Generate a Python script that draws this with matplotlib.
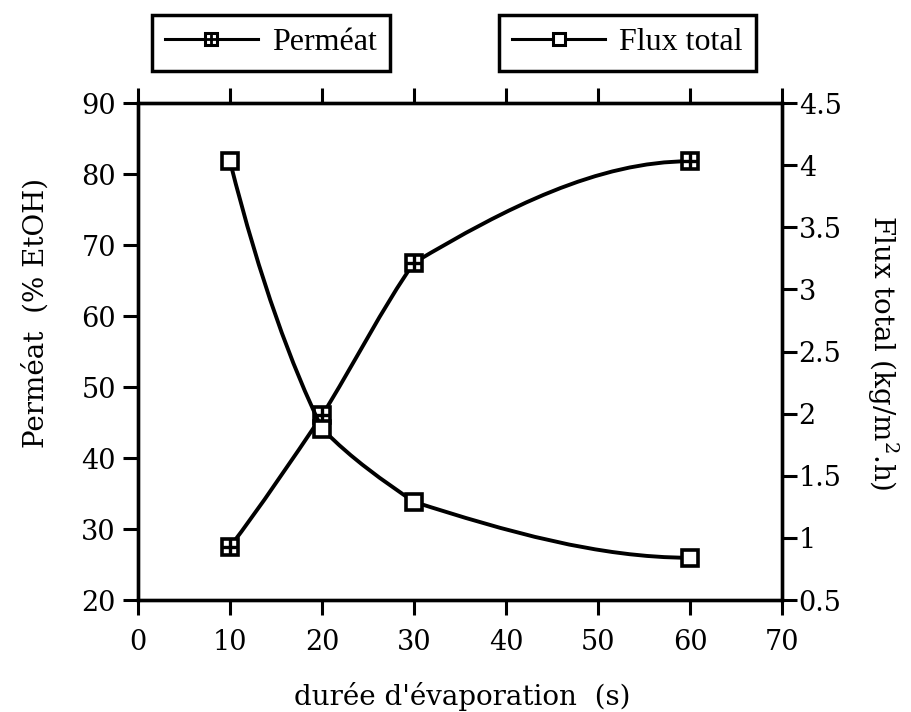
import matplotlib
matplotlib.use('Agg')
import matplotlib.pyplot as plt
from matplotlib.path import Path
from matplotlib.patches import PathPatch
from matplotlib.lines import Line2D
from matplotlib.ticker import FuncFormatter

# Données
duree = [10, 20, 30, 60]
permeat = [27.5, 46.0, 67.5, 81.8]
flux = [4.03, 1.88, 1.29, 0.84]

x_ticks = [0, 10, 20, 30, 40, 50, 60, 70]
y1_ticks = [20, 30, 40, 50, 60, 70, 80, 90]
y2_ticks = [0.5, 1, 1.5, 2, 2.5, 3, 3.5, 4, 4.5]


def pentes(x, y):
    # pentes de type PCHIP pour tracer une courbe lisse qui passe par les points
    n = len(x)
    h = [x[i + 1] - x[i] for i in range(n - 1)]
    d = [(y[i + 1] - y[i]) / h[i] for i in range(n - 1)]
    m = [0.0] * n
    for i in range(1, n - 1):
        if d[i - 1] * d[i] <= 0:
            m[i] = 0.0
        else:
            w1 = 2 * h[i] + h[i - 1]
            w2 = h[i] + 2 * h[i - 1]
            m[i] = (w1 + w2) / (w1 / d[i - 1] + w2 / d[i])

    def bout(h0, h1, d0, d1):
        v = ((2 * h0 + h1) * d0 - h0 * d1) / (h0 + h1)
        if v * d0 <= 0:
            return 0.0
        if d0 * d1 < 0 and abs(v) > 3 * abs(d0):
            return 3 * d0
        return v

    m[0] = bout(h[0], h[1], d[0], d[1])
    m[-1] = bout(h[-1], h[-2], d[-1], d[-2])
    return m, h, d


def courbe(x, y):
    # Bezier par segment ; aux points intérieurs la pente penche vers la corde
    # du segment court (comme le tracé d'origine, un peu anguleux aux points)
    m, h, d = pentes(x, y)
    n = len(x)
    verts = [(x[0], y[0])]
    codes = [Path.MOVETO]
    for i in range(n - 1):
        if i == 0:
            ma = m[0]
        else:
            w = h[i - 1] / (h[i - 1] + h[i])
            ma = m[i] + w * (d[i] - m[i])
        if i + 1 == n - 1:
            mb = m[-1]
        else:
            w = h[i + 1] / (h[i] + h[i + 1])
            mb = m[i + 1] + w * (d[i] - m[i + 1])
        verts += [(x[i] + h[i] / 3, y[i] + ma * h[i] / 3),
                  (x[i + 1] - h[i] / 3, y[i + 1] - mb * h[i] / 3),
                  (x[i + 1], y[i + 1])]
        codes += [Path.CURVE4] * 3
    return Path(verts, codes)


plt.rcParams['font.family'] = 'DejaVu Serif'

fig = plt.figure(figsize=(9.11, 7.12), dpi=100)
ax = fig.add_axes([0.1515, 0.1573, 0.7069, 0.698])
ax2 = ax.twinx()

lw = 2.8
ms = 11.5

# Perméat (axe de gauche)
ax.add_patch(PathPatch(courbe(duree, permeat), fill=False, lw=lw, color='black', zorder=2))
ax.plot(duree, permeat, ls='none', marker='s', ms=ms, mfc='white', mec='black', mew=2.6, zorder=3)
ax.plot(duree, permeat, ls='none', marker='+', ms=ms, mec='black', mew=2.4, zorder=4)

# Flux total (axe de droite)
ax2.add_patch(PathPatch(courbe(duree, flux), fill=False, lw=lw, color='black', zorder=2))
ax2.plot(duree, flux, ls='none', marker='s', ms=ms, mfc='white', mec='black', mew=2.6, zorder=3)

ax.set_xlim(0, 70)
ax.set_ylim(20, 90)
ax2.set_ylim(0.5, 4.5)
ax.set_xticks(x_ticks)
ax.set_yticks(y1_ticks)
ax2.set_yticks(y2_ticks)
ax2.yaxis.set_major_formatter(FuncFormatter(lambda v, p: '%g' % v))

for a in (ax, ax2):
    for s in a.spines.values():
        s.set_linewidth(2.4)
ax.tick_params(axis='x', which='both', direction='out', top=True, length=11, width=2.2,
               labelsize=19.5, pad=10)
ax.tick_params(axis='y', direction='out', length=11, width=2.2, labelsize=19.5, pad=5)
ax2.tick_params(axis='y', direction='out', length=11, width=2.2, labelsize=19.5, pad=1)

fig.text(0.507, 0.022, "durée d'évaporation  (s)", ha='center', va='center', fontsize=20)
fig.text(0.039, 0.56, "Perméat  (% EtOH)", ha='center', va='center', rotation=90, fontsize=20)
fig.text(0.969, 0.505, "Flux total (kg/m$^{\\mathregular{2}}$.h)", ha='center', va='center',
         rotation=270, fontsize=20)

# Légendes dans deux cadres séparés
lms = 9
h_perm = (Line2D([], [], color='black', lw=2.2, marker='s', ms=lms, mfc='white', mec='black', mew=2.2),
          Line2D([], [], ls='none', marker='+', ms=lms, mec='black', mew=2.0))
h_flux = Line2D([], [], color='black', lw=2.2, marker='s', ms=lms, mfc='white', mec='black', mew=2.2)

for h, lab, cx in [(h_perm, 'Perméat', 0.2975), (h_flux, 'Flux total', 0.689)]:
    leg = fig.legend([h], [lab], loc='center', bbox_to_anchor=(cx, 0.940),
                     prop={'family': 'Liberation Serif', 'size': 23},
                     fancybox=False, framealpha=1, edgecolor='black',
                     handlelength=2.9, handletextpad=0.45, borderpad=0.42,
                     borderaxespad=0)
    leg.get_frame().set_linewidth(2.5)

fig.savefig('out.png', dpi=100)
